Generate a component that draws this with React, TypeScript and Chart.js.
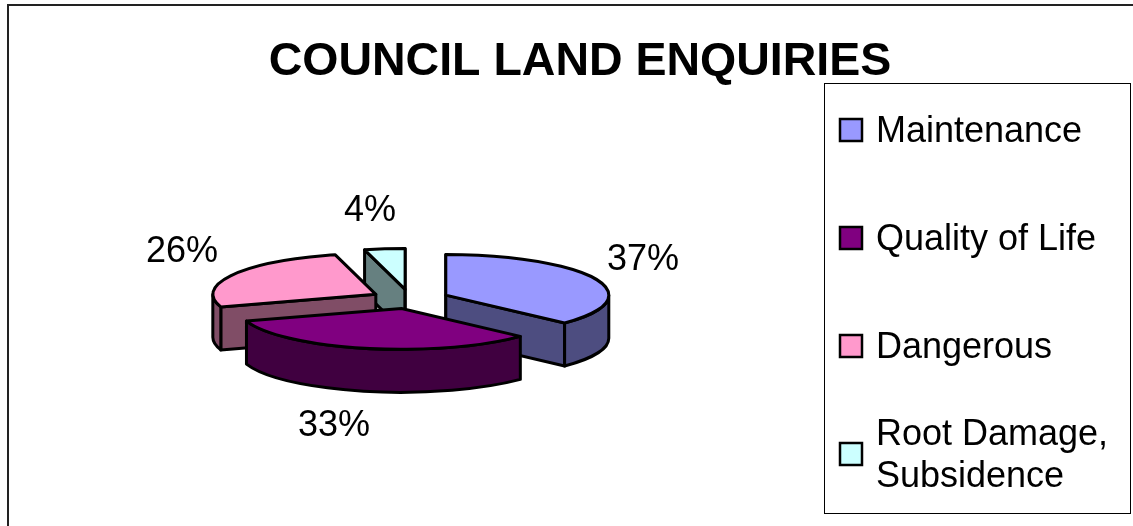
import React, { useEffect, useRef } from "react";
import { Chart, registerables } from "chart.js";

Chart.register(...registerables);

const chartTitle = "COUNCIL LAND ENQUIRIES";
const categories = ["Maintenance", "Quality of Life", "Dangerous", "Root Damage, Subsidence"];
const legendLines = [["Maintenance"], ["Quality of Life"], ["Dangerous"], ["Root Damage,", "Subsidence"]];
const shares = [37, 33, 26, 4];
const topColors = ["#9999FF", "#800080", "#FF99CC", "#CCFFFF"];
const sideColors = ["#4D4D80", "#400040", "#804D66", "#668080"];

// Back-to-front painting order of the slices.
const paintOrder = [3, 2, 0, 1];

const FONT = '"Liberation Sans", Arial, sans-serif';
const TILT = 0.25;
const DEPTH = 43;
const EXPLODE = 39;
const valueLabelAt: [number, number][] = [
  [643, 260],
  [334, 426],
  [182, 252],
  [370, 211],
];
const legendBox = { left: 824, top: 83, right: 1130, bottom: 513 };
const legendRows = [130, 238, 346, 454];

const pie3d = {
  id: "pie3d",
  beforeDatasetsDraw(chart: any) {
    const ctx: CanvasRenderingContext2D = chart.ctx;
    const arcs = chart.getDatasetMeta(0).data;
    ctx.save();
    ctx.lineWidth = 3;
    ctx.lineJoin = "round";
    ctx.strokeStyle = "#000";

    for (const i of paintOrder) {
      const arc = arcs[i];
      const { x, y, startAngle, endAngle, outerRadius: r } = arc;
      const mid = (startAngle + endAngle) / 2;
      const ox = x + EXPLODE * Math.cos(mid);
      const oy = y + EXPLODE * TILT * Math.sin(mid);
      const px = (a: number) => ox + r * Math.cos(a);
      const py = (a: number) => oy + r * TILT * Math.sin(a);

      // Radial side faces; those turned away from the viewer are skipped.
      ctx.fillStyle = sideColors[i];
      const faces: [number, number][] = [
        [startAngle, -Math.cos(startAngle)],
        [endAngle, Math.cos(endAngle)],
      ];
      for (const [a, facing] of faces) {
        if (facing < -1e-6) continue;
        ctx.beginPath();
        ctx.moveTo(ox, oy);
        ctx.lineTo(px(a), py(a));
        ctx.lineTo(px(a), py(a) + DEPTH);
        ctx.lineTo(ox, oy + DEPTH);
        ctx.closePath();
        ctx.fill();
        ctx.stroke();
      }

      // Curved outer wall, only where it faces the viewer.
      const from = Math.max(startAngle, 0);
      const to = Math.min(endAngle, Math.PI);
      if (to > from) {
        ctx.beginPath();
        ctx.ellipse(ox, oy, r, r * TILT, 0, from, to);
        ctx.ellipse(ox, oy + DEPTH, r, r * TILT, 0, to, from, true);
        ctx.closePath();
        ctx.fill();
        ctx.stroke();
      }

      // Top face: the arc element itself, squashed onto the tilted plane.
      ctx.save();
      ctx.translate(ox, oy);
      ctx.scale(1, TILT);
      ctx.translate(-x, -y);
      arc.draw(ctx);
      ctx.beginPath();
      ctx.moveTo(x, y);
      ctx.arc(x, y, r, startAngle, endAngle);
      ctx.closePath();
      ctx.restore();
      ctx.stroke();
    }
    ctx.restore();
    return false;
  },
  afterDraw(chart: any) {
    const ctx: CanvasRenderingContext2D = chart.ctx;
    ctx.save();

    // Outer frame, open on the right and at the bottom.
    ctx.strokeStyle = "#222";
    ctx.lineWidth = 2;
    ctx.beginPath();
    ctx.moveTo(8, 526);
    ctx.lineTo(8, 5);
    ctx.lineTo(1133, 5);
    ctx.stroke();

    // Title.
    ctx.fillStyle = "#000";
    ctx.textBaseline = "middle";
    ctx.textAlign = "center";
    ctx.font = `bold 46.5px ${FONT}`;
    ctx.fillText(chartTitle, 580, 62);

    // Percentage labels.
    ctx.font = `36px ${FONT}`;
    shares.forEach((v, i) => {
      ctx.fillText(`${v}%`, valueLabelAt[i][0], valueLabelAt[i][1]);
    });

    // Legend box.
    const b = legendBox;
    ctx.fillStyle = "#fff";
    ctx.fillRect(b.left, b.top, b.right - b.left, b.bottom - b.top);
    ctx.strokeStyle = "#000";
    ctx.lineWidth = 1;
    ctx.strokeRect(b.left + 0.5, b.top + 0.5, b.right - b.left, b.bottom - b.top);

    ctx.textAlign = "left";
    legendLines.forEach((lines, i) => {
      const cy = legendRows[i];
      ctx.fillStyle = topColors[i];
      ctx.fillRect(840, cy - 11, 22, 22);
      ctx.strokeStyle = "#000";
      ctx.lineWidth = 2.5;
      ctx.strokeRect(840, cy - 11, 22, 22);
      ctx.fillStyle = "#000";
      lines.forEach((line, j) => {
        ctx.fillText(line, 876, cy + 2 + (j - (lines.length - 1) / 2) * 42);
      });
    });
    ctx.restore();
  },
};

export default function App() {
  const ref = useRef<HTMLCanvasElement>(null);
  useEffect(() => {
    const chart = new Chart(ref.current!, {
      type: "pie",
      data: {
        labels: categories,
        datasets: [{ data: shares, backgroundColor: topColors, borderWidth: 0 }],
      },
      options: {
        animation: false,
        responsive: false,
        events: [],
        layout: { padding: { left: 247, right: 560, top: 136, bottom: 64 } },
        plugins: { legend: { display: false }, title: { display: false }, tooltip: { enabled: false } },
      },
      plugins: [pie3d],
    } as any);
    return () => chart.destroy();
  }, []);
  return (
    <canvas
      ref={ref}
      width={1133}
      height={526}
      style={{ position: "absolute", left: 0, top: 0, width: 1133, height: 526, display: "block" }}
    />
  );
}
